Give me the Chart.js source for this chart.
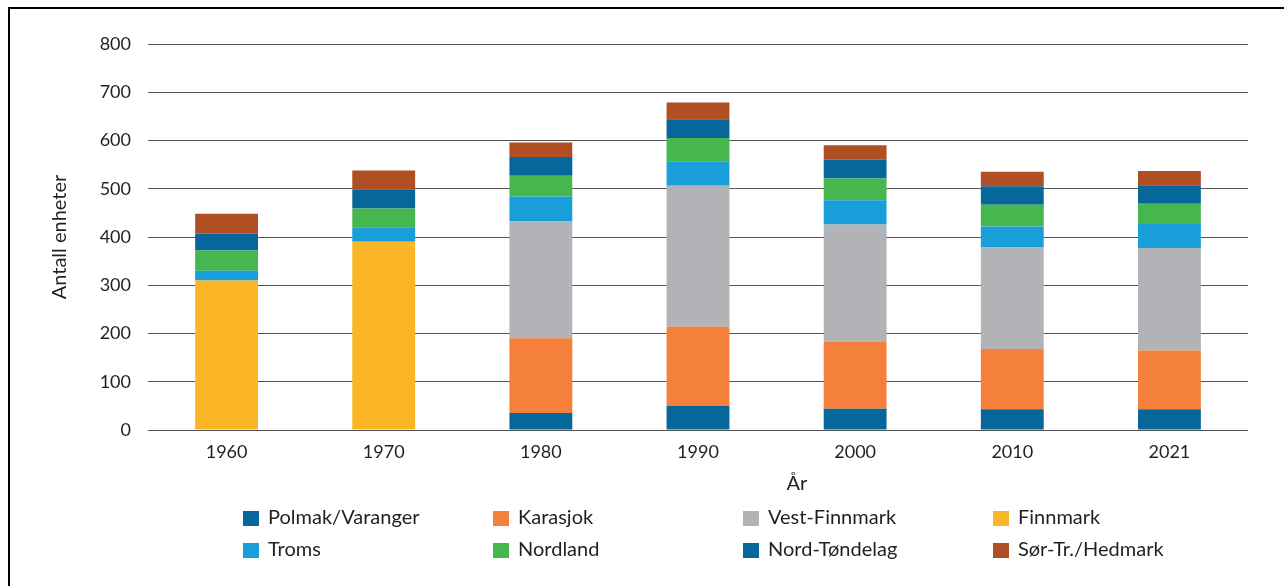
<!DOCTYPE html>
<html>
<head>
<meta charset="utf-8">
<script src="https://cdn.jsdelivr.net/npm/chart.js@4"></script>
<style>
  body { margin: 0; background: #fff; }
  #wrap { position: relative; width: 1284px; height: 586px; }
  #frame { position: absolute; left: 8px; top: 7px; width: 1290px; height: 600px; border-left: 2px solid #000; border-top: 2px solid #000; }
</style>
</head>
<body>
<div id="wrap">
  <div id="frame"></div>
  <canvas id="myChart" width="1284" height="586"></canvas>
</div>
<script>
  const years = ['1960', '1970', '1980', '1990', '2000', '2010', '2021'];

  const polmak   = [0, 0, 35, 50, 44, 43, 43];
  const karasjok = [0, 0, 155, 164, 139, 125, 122];
  const vest     = [0, 0, 242, 292, 243, 210, 212];
  const finnmark = [310, 390, 0, 0, 0, 0, 0];
  const troms    = [20, 30, 52, 51, 50, 44, 50];
  const nordland = [42, 39, 43, 48, 45, 45, 42];
  const nordT    = [35, 40, 39, 39, 39, 38, 38];
  const sorTr    = [41, 39, 30, 35, 30, 30, 30];

  const yTicks = [0, 100, 200, 300, 400, 500, 600, 700, 800];

  const font = 'Lato';
  const textCol = '#231f20';

  // legend + x title drawn in the bottom area, 4 columns x 2 rows
  const gridLegend = {
    id: 'gridLegend',
    afterDraw(chart) {
      const ctx = chart.ctx;
      ctx.save();
      ctx.textBaseline = 'middle';
      ctx.fillStyle = textCol;
      ctx.font = '20px ' + font;
      ctx.textAlign = 'center';
      ctx.fillText('År', 797, 484);
      ctx.textAlign = 'left';
      chart.data.datasets.forEach((ds, i) => {
        const col = i % 4, row = Math.floor(i / 4);
        const x = 243 + col * 250;
        const y = 518 + row * 32;
        ctx.fillStyle = ds.backgroundColor;
        ctx.fillRect(x, y - 7, 16, 15);
        ctx.fillStyle = textCol;
        ctx.fillText(ds.label, x + 25, y);
      });
      ctx.restore();
    }
  };

  let myChart = document.getElementById('myChart').getContext('2d');

  let stackChart = new Chart(myChart, {
    type: 'bar',
    data: {
      labels: years,
      datasets: [
        { label: 'Polmak/Varanger', data: polmak, backgroundColor: '#06679a' },
        { label: 'Karasjok', data: karasjok, backgroundColor: '#f4803c' },
        { label: 'Vest-Finnmark', data: vest, backgroundColor: '#b2b3b6' },
        { label: 'Finnmark', data: finnmark, backgroundColor: '#fab626' },
        { label: 'Troms', data: troms, backgroundColor: '#189fda' },
        { label: 'Nordland', data: nordland, backgroundColor: '#46b74e' },
        { label: 'Nord-Tøndelag', data: nordT, backgroundColor: '#06679a' },
        { label: 'Sør-Tr./Hedmark', data: sorTr, backgroundColor: '#b04f24' }
      ]
    },
    options: {
      responsive: false,
      animation: false,
      barPercentage: 0.4,
      categoryPercentage: 1,
      layout: { padding: { left: 0, right: 36, top: 44, bottom: 86 } },
      plugins: {
        legend: { display: false },
        tooltip: { enabled: false }
      },
      scales: {
        x: {
          stacked: true,
          grid: { display: false, drawTicks: false },
          border: { display: false },
          ticks: { color: textCol, font: { family: font, size: 18 }, padding: 11 },
          afterFit: s => { s.height = 70; }
        },
        y: {
          stacked: true,
          min: 0,
          max: 800,
          afterBuildTicks: s => { s.ticks = yTicks.map(v => ({ value: v })); },
          grid: { color: '#555', lineWidth: 1, drawTicks: false },
          border: { display: false },
          ticks: { color: textCol, font: { family: font, size: 18 }, padding: 17 },
          title: { display: true, text: 'Antall enheter', color: textCol, font: { family: font, size: 20 }, padding: { top: 48 } },
          afterFit: s => { s.width = 148; }
        }
      }
    },
    plugins: [gridLegend]
  });
</script>
</body>
</html>
